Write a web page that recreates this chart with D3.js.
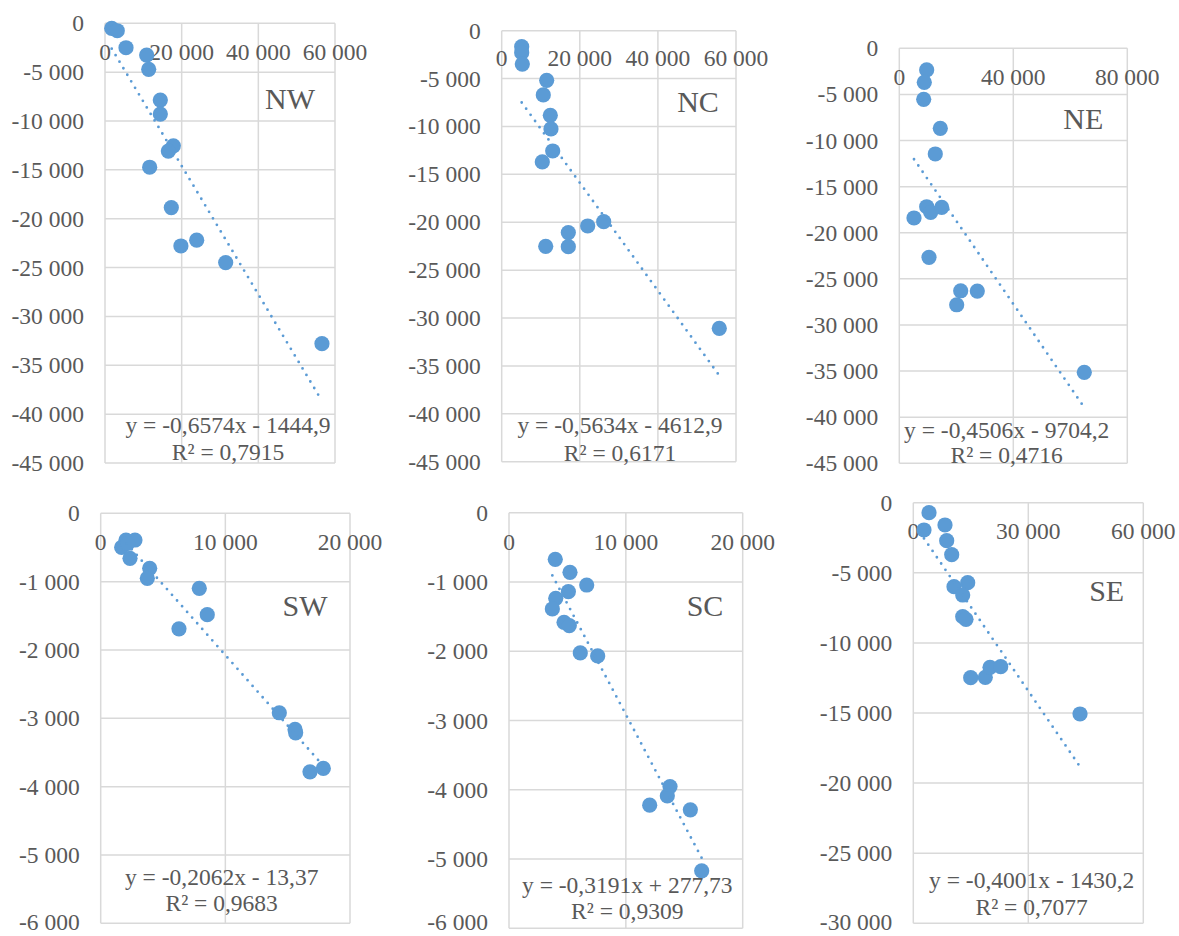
<!DOCTYPE html>
<html>
<head>
<meta charset="utf-8">
<script src="https://cdn.jsdelivr.net/npm/d3@7"></script>
<style>
  body { margin: 0; background: #fff; }
  svg text { font-family: "Liberation Serif", "Times New Roman", serif; fill: #595959; }
</style>
</head>
<body>
<div id="chart"></div>
<script>
// ---- data ----
var regions = ['NW', 'NC', 'NE', 'SW', 'SC', 'SE'];

var nwX = [1750, 3200, 5480, 10870, 11400, 14430, 14430, 17830, 16520, 11650, 17300, 19800, 23920, 31480, 56600];
var nwY = [-512, -760, -2500, -3250, -4710, -7860, -9290, -12540, -13080, -14730, -18860, -22790, -22200, -24490, -32790];

var ncX = [5120, 5120, 5280, 11520, 10650, 12450, 12620, 13060, 10400, 11270, 17060, 17060, 22020, 26120, 55720];
var ncY = [-1670, -2300, -3480, -5180, -6710, -8830, -10260, -12560, -13700, -22510, -21080, -22550, -20390, -19940, -31070];

var neX = [9610, 8770, 8560, 14390, 12630, 5160, 9610, 11020, 14880, 10420, 21540, 27370, 20140, 64910];
var neY = [-2350, -3690, -5530, -8680, -11460, -18400, -17180, -17790, -17250, -22670, -26290, -26320, -27810, -35140];

var swX = [2030, 2750, 1680, 2170, 2350, 3930, 3740, 7910, 8550, 6280, 14330, 15590, 15640, 16790, 17860];
var swY = [-391, -391, -498, -440, -659, -805, -952, -1098, -1484, -1690, -2919, -3163, -3212, -3783, -3734];

var scX = [3960, 5220, 6650, 5080, 4000, 3710, 4710, 5160, 6100, 7590, 12040, 13780, 13550, 15520, 16490];
var scY = [-673, -861, -1044, -1140, -1236, -1390, -1582, -1630, -2025, -2068, -4223, -3954, -4088, -4290, -5170];

var seX = [4100, 2790, 8270, 8710, 10020, 10620, 14190, 12890, 12890, 13750, 14970, 18780, 20010, 22800, 43490];
var seY = [-713, -1947, -1590, -2710, -3709, -5991, -5706, -6584, -8131, -8320, -12482, -12454, -11741, -11698, -15071];

// linear trend: slope, intercept, R²
var slopes = [-0.6574, -0.5634, -0.4506, -0.2062, -0.3191, -0.4001];
var intercepts = [-1444.9, -4612.9, -9704.2, -13.37, 277.73, -1430.2];
var rSquared = [0.7915, 0.6171, 0.4716, 0.9683, 0.9309, 0.7077];

var xTicks = [
  [0, 20000, 40000, 60000],
  [0, 20000, 40000, 60000],
  [0, 40000, 80000],
  [0, 10000, 20000],
  [0, 10000, 20000],
  [0, 30000, 60000]
];
var yTicks = [
  d3.range(0, -45001, -5000),
  d3.range(0, -45001, -5000),
  d3.range(0, -45001, -5000),
  d3.range(0, -6001, -1000),
  d3.range(0, -6001, -1000),
  d3.range(0, -30001, -5000)
];

var xs = [nwX, ncX, neX, swX, scX, seX];
var ys = [nwY, ncY, neY, swY, scY, seY];

// ---- layout of each panel (plot area, label spots) ----
var frames = [
  {l: 105, r: 335, t: 23.3, b: 463, xl: 52, tx: 290, ty: 98, ex: 228, ey: 425, ry: 452},
  {l: 501.7, r: 736, t: 30.7, b: 461.7, xl: 58.3, tx: 698, ty: 101.7, ex: 620, ey: 425, ry: 452.7},
  {l: 899.3, r: 1127.3, t: 48.3, b: 463.3, xl: 76.7, tx: 1083.3, ty: 118.3, ex: 1006.7, ey: 430, ry: 455},
  {l: 100.7, r: 350, t: 513.3, b: 923.3, xl: 541.7, tx: 305, ty: 605, ex: 221.7, ey: 876.7, ry: 902.7},
  {l: 509, r: 742.7, t: 512.7, b: 928.3, xl: 541.7, tx: 705, ty: 605, ex: 627.3, ey: 885, ry: 910.7},
  {l: 913.3, r: 1143.3, t: 502.7, b: 923.3, xl: 530.7, tx: 1106.7, ty: 590, ex: 1031.7, ey: 880, ry: 906.7}
];

var width = 1179, height = 936;
var blue = '#5b9bd5', grid = '#d9d9d9';
var fs = 23.5;

var locale = d3.formatLocale({decimal: ',', thousands: ' ', grouping: [3], currency: ['', ''], minus: '-'});
var fmtInt = locale.format(',d');
var fmtDec = function(v){ return String(v).replace('.', ','); };

var svg = d3.select('#chart').append('svg')
  .attr('width', width)
  .attr('height', height);

regions.forEach(function(name, i){
  var f = frames[i];
  var xt = xTicks[i], yt = yTicks[i];

  var xScale = d3.scaleLinear().domain([0, d3.max(xt)]).range([f.l, f.r]);
  var yScale = d3.scaleLinear().domain([d3.min(yt), 0]).range([f.b, f.t]);

  var g = svg.append('g').attr('class', 'panel ' + name);

  // gridlines
  g.selectAll('.hgrid').data(yt).enter().append('line')
    .attr('x1', f.l).attr('x2', f.r)
    .attr('y1', function(d){ return yScale(d); })
    .attr('y2', function(d){ return yScale(d); })
    .style('stroke', grid).style('stroke-width', 1.5);
  g.selectAll('.vgrid').data(xt).enter().append('line')
    .attr('y1', f.t).attr('y2', f.b)
    .attr('x1', function(d){ return xScale(d); })
    .attr('x2', function(d){ return xScale(d); })
    .style('stroke', grid).style('stroke-width', 1.5);

  // y tick labels (the lowest one in the bottom row sits on the page edge)
  g.selectAll('.ylab').data(yt).enter().append('text')
    .attr('x', f.l - 21)
    .attr('y', function(d){ return Math.min(yScale(d) + 8, height - 6); })
    .attr('text-anchor', 'end')
    .style('font-size', fs + 'px')
    .text(function(d){ return fmtInt(d); });

  // x tick labels (axis crosses at y = 0, labels sit just under it)
  g.selectAll('.xlab').data(xt).enter().append('text')
    .attr('x', function(d){ return xScale(d); })
    .attr('y', f.xl + 8)
    .attr('text-anchor', 'middle')
    .style('font-size', fs + 'px')
    .text(function(d){ return fmtInt(d); });

  // region name
  g.append('text')
    .attr('x', f.tx).attr('y', f.ty + 10.5)
    .attr('text-anchor', 'middle')
    .style('font-size', '30px')
    .text(name);

  // markers
  var pts = xs[i].map(function(x, j){ return [x, ys[i][j]]; });
  g.selectAll('.dot').data(pts).enter().append('circle')
    .attr('cx', function(d){ return xScale(d[0]); })
    .attr('cy', function(d){ return yScale(d[1]); })
    .attr('r', 7.6)
    .style('fill', blue);

  // dotted trendline over the data's x range
  var x0 = d3.min(xs[i]), x1 = d3.max(xs[i]);
  g.append('line')
    .attr('x1', xScale(x0)).attr('y1', yScale(slopes[i] * x0 + intercepts[i]))
    .attr('x2', xScale(x1)).attr('y2', yScale(slopes[i] * x1 + intercepts[i]))
    .style('stroke', blue)
    .style('stroke-width', 2.8)
    .style('stroke-linecap', 'round')
    .style('stroke-dasharray', '0, 7.6');

  // equation and R²
  var b = intercepts[i];
  var eq = 'y = ' + fmtDec(slopes[i]) + 'x ' + (b < 0 ? '- ' : '+ ') + fmtDec(Math.abs(b));
  g.append('text')
    .attr('x', f.ex).attr('y', f.ey + 8)
    .attr('text-anchor', 'middle')
    .style('font-size', fs + 'px')
    .text(eq);
  g.append('text')
    .attr('x', f.ex).attr('y', f.ry + 8)
    .attr('text-anchor', 'middle')
    .style('font-size', fs + 'px')
    .text('R² = ' + fmtDec(rSquared[i]));
});
</script>
</body>
</html>
